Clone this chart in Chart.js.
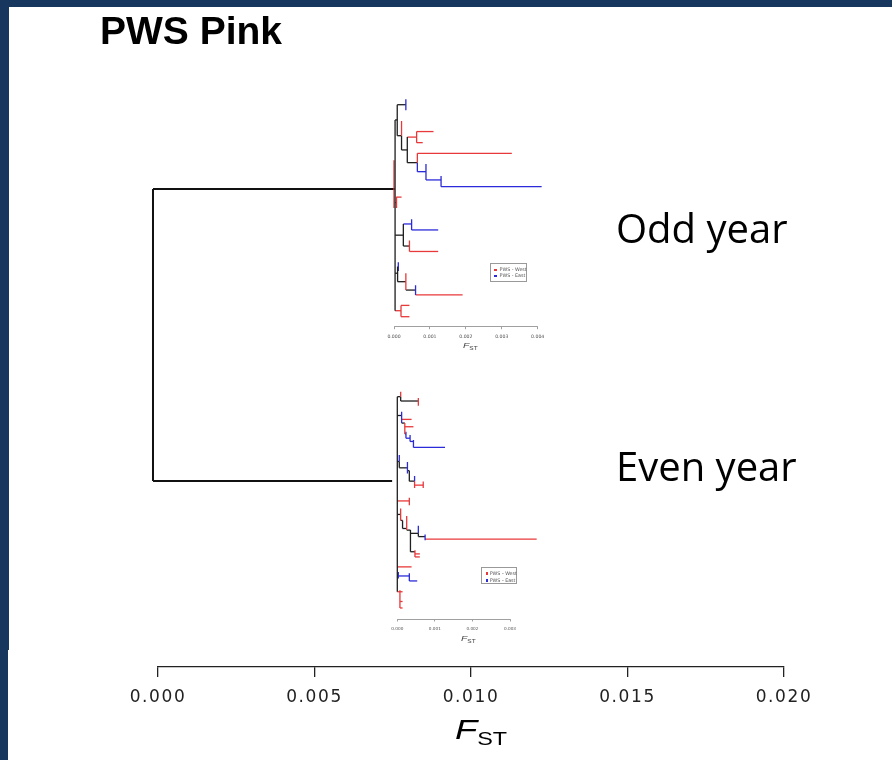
<!DOCTYPE html>
<html>
<head>
<meta charset="utf-8">
<script src="https://cdn.jsdelivr.net/npm/chart.js@4/dist/chart.umd.min.js"></script>
<style>
  html, body { margin: 0; padding: 0; background: #fff; }
  #slide { position: relative; width: 892px; height: 760px; overflow: hidden; background: #fff; }
  #slide canvas { position: absolute; left: 0; top: 0; }
  .bar { position: absolute; background: #17375e; }
  .txt { position: absolute; white-space: nowrap; color: #000; }
  .title { left: 100px; top: 11px; font: bold 39px/39px "Liberation Sans", Arial, sans-serif; }
  .group { font: 40px/40px "Open Sans", sans-serif; }
  .fst { font-family: "Liberation Sans", Arial, sans-serif; font-style: italic; transform-origin: left bottom; }
  .fst span { font-style: normal; }
  .legend { position: absolute; border: 0.6px solid #999; background: #fff; box-sizing: border-box; }
  .legend div { position: absolute; white-space: nowrap; font: 4.8px/5px "DejaVu Sans", sans-serif; color: #555; }
  .legend i { position: absolute; width: 2.8px; height: 2.8px; }
</style>
</head>
<body>
<div id="slide">
  <div class="bar" style="left:0;top:0;width:892px;height:7px"></div>
  <div class="bar" style="left:0;top:0;width:9px;height:650px"></div>
  <div class="bar" style="left:0;top:650px;width:8px;height:110px"></div>
  <canvas id="mainTree" width="892" height="760"></canvas>
  <canvas id="oddTree" width="892" height="760"></canvas>
  <canvas id="evenTree" width="892" height="760"></canvas>
  <div class="txt title">PWS Pink</div>
  <div class="txt group" style="left:616px;top:208px">Odd year</div>
  <div class="txt group" style="left:616px;top:446px">Even year</div>
  <div class="txt fst" style="left:455px;top:716px;font-size:28px;line-height:28px;transform:scaleX(1.3)">F<span style="font-size:18px;vertical-align:-6px">ST</span></div>
  <div class="txt fst" style="left:463px;top:342px;font-size:8px;line-height:8px;color:#444;transform:scaleX(1.3)">F<span style="font-size:5px;vertical-align:-2px">ST</span></div>
  <div class="txt fst" style="left:461px;top:635px;font-size:8px;line-height:8px;color:#444;transform:scaleX(1.3)">F<span style="font-size:5px;vertical-align:-2px">ST</span></div>
  <div class="legend" id="oddLegend" style="left:490px;top:262.7px;width:37.3px;height:19.6px"></div>
  <div class="legend" id="evenLegend" style="left:480.7px;top:566.7px;width:36.6px;height:17.6px"></div>
</div>
<script>
// groups: W = PWS - West, E = PWS - East, I = internal branch
const groupNames = ['PWS - West', 'PWS - East']
const groupKeys = ['W', 'E']

// top-level tree: Odd year cluster (row 1) and Even year cluster (row 2), F_ST
const mainRows = [1, 2]
const mainRootFst = -0.00016
const mainTipFst = [0.00757, 0.00748]
const mainTicks = [0, 0.005, 0.010, 0.015, 0.020]

// inset trees, F_ST in units of 0.001; rows are leaf positions (0 = top)
// horizontal branches: [row, fromFst, toFst, group]
const oddBranches = [
  [1.9, 0.03, 0.09, 'I'], [0.5, 0.09, 0.33, 'I'], [3.35, 0.09, 0.21, 'I'],
  [4.66, 0.21, 0.37, 'I'], [3.48, 0.37, 0.63, 'W'], [2.97, 0.63, 1.10, 'W'],
  [3.99, 0.63, 0.80, 'W'], [5.83, 0.37, 0.65, 'I'], [4.97, 0.65, 3.28, 'W'],
  [6.66, 0.65, 0.89, 'E'], [7.42, 0.89, 1.31, 'E'], [8.04, 1.31, 4.11, 'E'],
  [9.5, 0.03, 0.07, 'W'], [9.0, 0.07, 0.21, 'W'], [12.5, 0.03, 0.26, 'I'],
  [11.47, 0.26, 0.49, 'E'], [12.02, 0.49, 1.23, 'E'], [13.5, 0.26, 0.43, 'I'],
  [14.0, 0.43, 1.23, 'W'], [16.0, 0.03, 0.10, 'I'], [15.4, 0.10, 0.12, 'E'],
  [16.78, 0.10, 0.33, 'I'], [17.55, 0.33, 0.60, 'I'], [18.0, 0.60, 1.91, 'W'],
  [19.45, 0.03, 0.195, 'W'], [18.96, 0.195, 0.43, 'W'], [20.0, 0.195, 0.43, 'W']
]
// vertical links: [fst, fromRow, toRow, group]
const oddLinks = [
  [0.03, 1.9, 19.45, 'I'], [0.0, 5.6, 10.0, 'W'], [0.09, 0.5, 3.35, 'I'],
  [0.33, 0, 1, 'E'], [0.21, 2, 3.35, 'W'], [0.21, 3.35, 4.66, 'I'],
  [0.37, 3.48, 5.83, 'I'], [0.63, 2.97, 3.99, 'W'], [0.65, 4.97, 5.83, 'W'],
  [0.65, 5.83, 6.66, 'E'], [0.89, 5.95, 7.42, 'E'], [1.31, 7.06, 8.04, 'E'],
  [0.07, 8.96, 10.0, 'W'], [0.26, 11.47, 13.5, 'I'], [0.49, 11.04, 12.02, 'E'],
  [0.43, 13.0, 14.0, 'W'], [0.10, 15.4, 16.78, 'I'], [0.12, 15.0, 15.8, 'E'],
  [0.33, 16.0, 17.55, 'W'], [0.60, 17.1, 18.0, 'E'], [0.195, 18.96, 20.0, 'W']
]

const evenBranches = [
  [0.46, 0, 0.09, 'I'], [0.86, 0.09, 0.56, 'I'], [2.2, 0, 0.115, 'I'],
  [2.56, 0.115, 0.38, 'W'], [2.9, 0.115, 0.2, 'I'], [3.24, 0.2, 0.43, 'W'],
  [3.9, 0.2, 0.23, 'I'], [4.3, 0.23, 0.34, 'E'], [4.6, 0.34, 0.43, 'E'],
  [5.15, 0.43, 1.27, 'E'], [6.45, 0, 0.053, 'I'], [7.04, 0.053, 0.27, 'I'],
  [7.3, 0.27, 0.32, 'I'], [8.27, 0.32, 0.46, 'I'], [8.64, 0.46, 0.69, 'W'],
  [10.1, 0, 0.32, 'W'], [11.35, 0, 0.089, 'I'], [11.9, 0.089, 0.14, 'I'],
  [12.65, 0.14, 0.25, 'I'], [12.8, 0.25, 0.35, 'I'], [13.1, 0.35, 0.56, 'I'],
  [13.4, 0.56, 0.74, 'I'], [13.64, 0.74, 3.71, 'W'], [14.8, 0.35, 0.47, 'I'],
  [15.0, 0.47, 0.6, 'W'], [15.28, 0.47, 0.6, 'W'], [16.2, 0, 0.38, 'W'],
  [17.0, 0, 0.027, 'E'], [17.04, 0.027, 0.32, 'E'], [17.5, 0.32, 0.53, 'E'],
  [18.5, 0, 0.14, 'W'], [19.4, 0.07, 0.14, 'W'], [20.0, 0.07, 0.14, 'W']
]
const evenLinks = [
  [0, 0.46, 18.5, 'I'], [0.09, 0, 0.46, 'W'], [0.09, 0.46, 0.86, 'I'],
  [0.56, 0.58, 1.3, 'W'], [0.115, 1.85, 2.9, 'E'], [0.2, 2.9, 3.9, 'W'],
  [0.23, 3.7, 4.3, 'E'], [0.34, 4.0, 4.6, 'E'], [0.43, 4.47, 5.15, 'E'],
  [0.053, 5.86, 6.45, 'E'], [0.053, 6.45, 7.04, 'I'], [0.27, 6.5, 7.56, 'E'],
  [0.32, 7.3, 8.27, 'I'], [0.46, 7.8, 8.27, 'E'], [0.46, 8.27, 8.9, 'W'],
  [0.69, 8.3, 8.9, 'W'], [0.32, 9.8, 10.5, 'W'], [0.089, 10.8, 11.9, 'W'],
  [0.14, 11.9, 12.65, 'I'], [0.25, 11.5, 12.8, 'W'], [0.35, 12.8, 14.8, 'I'],
  [0.56, 12.4, 13.1, 'E'], [0.56, 13.1, 13.4, 'I'], [0.74, 13.2, 13.73, 'E'],
  [0.47, 14.66, 15.28, 'W'], [0.027, 16.67, 17.28, 'E'], [0.32, 16.8, 17.5, 'E'],
  [0.07, 18.36, 20.0, 'W']
]

const colors = { W: '#e8393a', E: '#2b2bd9', I: '#1f1f1f' }

const segment = (points, color, width) => ({
  data: points, borderColor: color, borderWidth: width,
  showLine: true, pointRadius: 0, clip: false
})

const treeDatasets = (branches, links, width) => {
  const sets = []
  links.forEach(([at, r0, r1, g]) => {
    sets.push(segment([{ x: at / 1000, y: r0 }, { x: at / 1000, y: r1 }], colors[g], width))
  })
  branches.forEach(([row, from, to, g]) => {
    sets.push(segment([{ x: from / 1000, y: row }, { x: to / 1000, y: row }], colors[g], width))
  })
  return sets
}

// canvas letter spacing, the R axis text is stretched wide
const wideText = {
  id: 'wideText',
  beforeDraw(chart, args, opts) { chart.ctx.letterSpacing = opts.spacing || '0px' }
}

const baseOptions = (pad, yMax) => ({
  responsive: false,
  animation: false,
  events: [],
  layout: { padding: pad },
  plugins: { legend: { display: false }, tooltip: { enabled: false } },
  scales: {
    y: { display: false, reverse: true, min: -1, max: yMax }
  }
})

// main dendrogram
const mainSets = []
mainRows.forEach((row, i) => {
  mainSets.push(segment([{ x: mainRootFst, y: row }, { x: mainTipFst[i], y: row }], '#111', 2))
})
mainSets.push(segment([{ x: mainRootFst, y: mainRows[0] }, { x: mainRootFst, y: mainRows[1] }], '#111', 2))

const mainOpts = baseOptions({ left: 158, right: 108, top: 43, bottom: 53 }, 2.637)
mainOpts.scales.y.min = 0.5
mainOpts.plugins.wideText = { spacing: '1.6px' }
mainOpts.scales.x = {
  type: 'linear', min: mainTicks[0], max: mainTicks[mainTicks.length - 1],
  afterFit: s => { s.height = 40 },
  afterBuildTicks: s => { s.ticks = mainTicks.map(v => ({ value: v })) },
  border: { color: '#222', width: 1.3 },
  grid: { drawOnChartArea: false, tickLength: 10, color: '#222', lineWidth: 1.3 },
  ticks: {
    maxRotation: 0, autoSkip: false, padding: 10, color: '#222',
    font: { family: 'DejaVu Sans', size: 17 },
    callback: v => v.toFixed(3)
  }
}
new Chart(document.getElementById('mainTree'), {
  type: 'scatter', data: { datasets: mainSets }, options: mainOpts, plugins: [wideText]
})

// inset trees
const insetTicks = {
  odd: [0, 0.001, 0.002, 0.003, 0.004],
  even: [0, 0.001, 0.002, 0.003]
}

const insetChart = (id, sets, ticks, pad, yMax, fontSize) => {
  const opts = baseOptions(pad, yMax)
  opts.scales.x = {
    type: 'linear', min: ticks[0], max: ticks[ticks.length - 1],
    afterFit: s => { s.height = 12 },
    afterBuildTicks: s => { s.ticks = ticks.map(v => ({ value: v })) },
    border: { color: '#888', width: 0.8 },
    grid: { drawOnChartArea: false, tickLength: 2.5, color: '#888', lineWidth: 0.8 },
    ticks: {
      maxRotation: 0, autoSkip: false, padding: 4.5, color: '#555',
      font: { family: 'DejaVu Sans', size: fontSize },
      callback: v => v.toFixed(3)
    }
  }
  return new Chart(document.getElementById(id), {
    type: 'scatter', data: { datasets: sets }, options: opts
  })
}

insetChart('oddTree', treeDatasets(oddBranches, oddLinks, 1.3), insetTicks.odd,
  { left: 394, right: 354.3, top: 88.4, bottom: 421.3 }, 20.92, 4.6)
insetChart('evenTree', treeDatasets(evenBranches, evenLinks, 1.3), insetTicks.even,
  { left: 397.3, right: 382, top: 380.9, bottom: 129 }, 21.02, 4.2)

// inset legends
const fillLegend = (id, sqLeft, firstTop, step, textLeft) => {
  const box = document.getElementById(id)
  groupNames.forEach((name, i) => {
    const sq = document.createElement('i')
    sq.style.background = colors[groupKeys[i]]
    sq.style.left = sqLeft + 'px'
    sq.style.top = (firstTop + i * step) + 'px'
    box.appendChild(sq)
    const t = document.createElement('div')
    t.textContent = name
    t.style.left = textLeft + 'px'
    t.style.top = (firstTop + i * step - 1.2) + 'px'
    box.appendChild(t)
  })
}
fillLegend('oddLegend', 3, 5, 6, 8.5)
fillLegend('evenLegend', 4, 4.3, 7, 8)
</script>
</body>
</html>
